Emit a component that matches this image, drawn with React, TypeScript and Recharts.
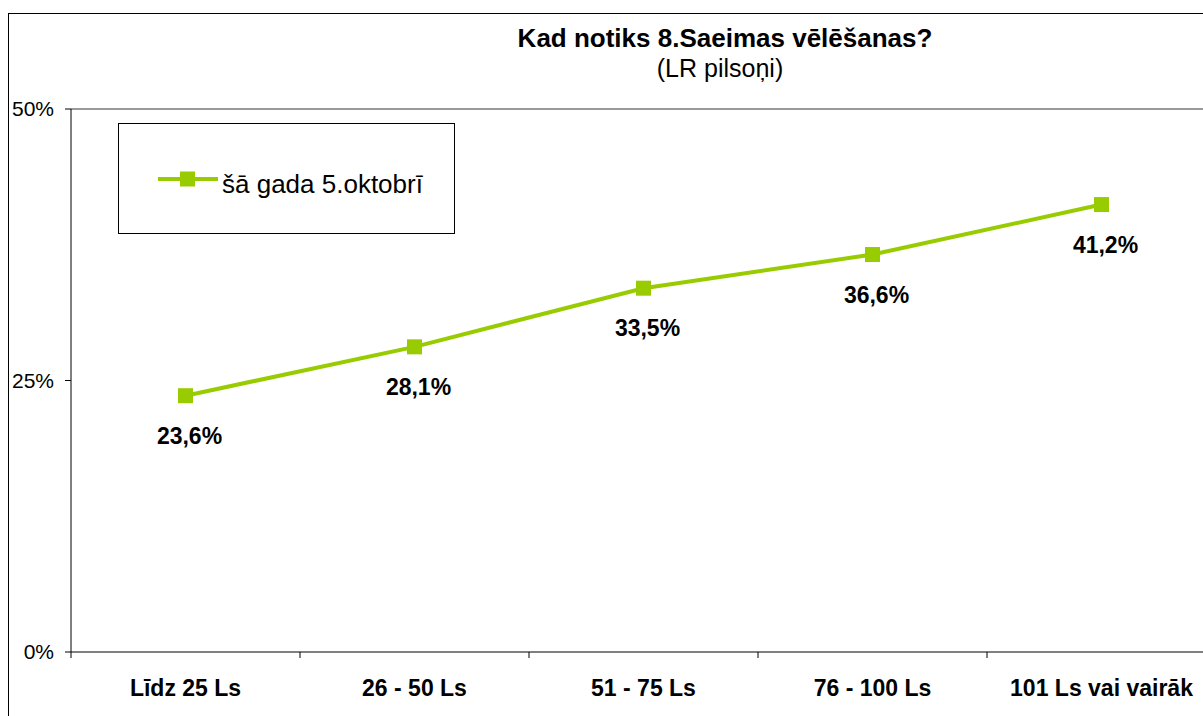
import { LineChart, Line, XAxis, YAxis, ReferenceLine, Legend, LabelList } from "recharts";

const incomeGroups = ["Līdz 25 Ls", "26 - 50 Ls", "51 - 75 Ls", "76 - 100 Ls", "101 Ls vai vairāk"];
const electionDayShare = [23.6, 28.1, 33.5, 36.6, 41.2];
const percentTicks = [0, 25, 50];
const seriesName = "šā gada 5.oktobrī";

const FONT = '"Liberation Sans", Arial, sans-serif';
const GREEN = "#99CC00";
const TICK_SIZE = 6;

const data = incomeGroups.map((group, i) => ({ group, share: electionDayShare[i] }));

function formatPct(v: number): string {
  return `${v.toFixed(1).replace(".", ",")}%`;
}

// band-axis tick: label in the middle, tick marks on the band edges
function CategoryTick({ x, y, payload, index, visibleTicksCount }: any) {
  const half = payload?.offset ?? 0;
  const axisY = y - TICK_SIZE;
  const isLast = index === visibleTicksCount - 1;
  return (
    <g>
      <line x1={x - half} x2={x - half} y1={axisY} y2={axisY + TICK_SIZE} stroke="#000" />
      {isLast && <line x1={x + half} x2={x + half} y1={axisY} y2={axisY + TICK_SIZE} stroke="#000" />}
      <text x={x} y={y + 38} textAnchor="middle" fontFamily={FONT} fontSize={23} fontWeight="bold" fill="#000">
        {payload.value}
      </text>
    </g>
  );
}

function SquareDot({ cx, cy, index }: any) {
  if (cx == null || cy == null) return null;
  return <rect key={index} x={cx - 7.5} y={cy - 7.5} width={15} height={15} fill={GREEN} />;
}

function ValueLabel({ x, y, value }: any) {
  return (
    <text x={x + 4} y={y + 48} textAnchor="middle" fontFamily={FONT} fontSize={23} fontWeight="bold" fill="#000">
      {formatPct(value)}
    </text>
  );
}

function LegendBox({ payload }: any) {
  const item = payload?.[0];
  return (
    <div style={{ position: "relative", width: "100%", height: "100%" }}>
      <svg width={60} height={16} style={{ position: "absolute", left: 39, top: 47 }}>
        <line x1={0} x2={60} y1={8} y2={8} stroke={GREEN} strokeWidth={4} />
        <rect x={22} y={0.5} width={15} height={15} fill={GREEN} />
      </svg>
      <span
        style={{
          position: "absolute",
          left: 103,
          top: 47,
          fontFamily: FONT,
          fontSize: 26,
          lineHeight: "26px",
          whiteSpace: "nowrap",
          color: "#000",
        }}
      >
        {item?.value}
      </span>
    </div>
  );
}

export default function App() {
  return (
    <div
      style={{
        position: "absolute",
        left: 0,
        top: 0,
        width: 1203,
        height: 716,
        overflow: "hidden",
        background: "#fff",
        fontFamily: FONT,
      }}
    >
      <div
        style={{
          position: "absolute",
          left: 8,
          top: 13,
          width: 1300,
          height: 800,
          border: "1px solid #000",
        }}
      />
      <div
        style={{
          position: "absolute",
          left: 0,
          top: 27,
          width: 1450,
          textAlign: "center",
          fontSize: 26,
          lineHeight: "22px",
          fontWeight: "bold",
          whiteSpace: "nowrap",
        }}
      >
        Kad notiks 8.Saeimas vēlēšanas?
      </div>
      <div
        style={{
          position: "absolute",
          left: 0,
          top: 57,
          width: 1440,
          textAlign: "center",
          fontSize: 25,
          lineHeight: "22px",
          whiteSpace: "nowrap",
        }}
      >
        (LR pilsoņi)
      </div>
      <div style={{ position: "absolute", left: 0, top: 0 }}>
        <LineChart width={1230} height={716} data={data} margin={{ top: 109, right: 14, bottom: 0, left: 11 }}>
          <ReferenceLine y={50} stroke="#999" strokeWidth={2} />
          <XAxis
            dataKey="group"
            type="category"
            scale="band"
            height={64}
            axisLine={{ stroke: "#000" }}
            tickLine={false}
            tickSize={TICK_SIZE}
            tickMargin={0}
            interval={0}
            tick={<CategoryTick />}
          />
          <YAxis
            type="number"
            domain={[0, 50]}
            ticks={percentTicks}
            tickFormatter={(v: number) => `${v}%`}
            width={60}
            axisLine={{ stroke: "#000" }}
            tickLine={{ stroke: "#000" }}
            tickSize={TICK_SIZE}
            tickMargin={11}
            tick={{ fontSize: 21, fill: "#000", fontFamily: FONT }}
          />
          <Legend
            layout="vertical"
            align="center"
            verticalAlign="middle"
            content={<LegendBox />}
            wrapperStyle={{
              left: 118,
              top: 123,
              width: 337,
              height: 111,
              border: "1px solid #000",
              boxSizing: "border-box",
              background: "#fff",
            }}
          />
          <Line
            type="linear"
            dataKey="share"
            name={seriesName}
            stroke={GREEN}
            strokeWidth={4}
            dot={<SquareDot />}
            activeDot={false}
            isAnimationActive={false}
          >
            <LabelList dataKey="share" content={<ValueLabel />} />
          </Line>
        </LineChart>
      </div>
    </div>
  );
}
